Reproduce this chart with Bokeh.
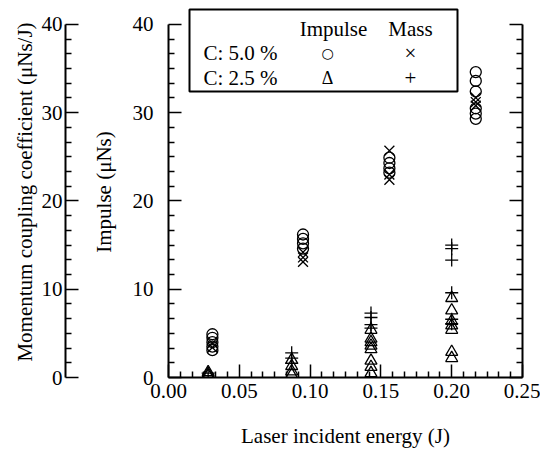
from bokeh.plotting import figure
from bokeh.models import (LinearAxis, FixedTicker, Range1d, Label, BoxAnnotation,
                          PrintfTickFormatter)
from bokeh.embed import file_html
from bokeh.resources import INLINE

# ---------------- data ----------------
x_ticks = [0.0, 0.05, 0.10, 0.15, 0.20, 0.25]
y_ticks = [0, 10, 20, 30, 40]

# C: 5.0 %  - Impulse (open circles)
imp5_x = [0.031, 0.031, 0.031, 0.031, 0.031,
          0.095, 0.095, 0.095, 0.095,
          0.156, 0.156, 0.156, 0.156,
          0.217, 0.217, 0.217, 0.217, 0.217, 0.217]
imp5_y = [4.9, 4.5, 4.0, 3.5, 3.1,
          16.2, 15.7, 15.2, 14.6,
          24.9, 24.3, 23.7, 23.2,
          34.6, 33.6, 32.4, 30.5, 29.9, 29.3]

# C: 5.0 %  - Mass (x)
mass5_x = [0.031, 0.031,
           0.095, 0.095, 0.095,
           0.156, 0.156, 0.156,
           0.217, 0.217, 0.217]
mass5_y = [3.4, 3.9,
           14.2, 13.6, 13.1,
           25.7, 23.0, 22.4,
           31.7, 31.2, 30.8]

# C: 2.5 %  - Impulse (open triangles)
imp25_x = [0.028, 0.028, 0.028,
           0.087, 0.087, 0.087, 0.087,
           0.143, 0.143, 0.143, 0.143, 0.143, 0.143, 0.143, 0.143,
           0.200, 0.200, 0.200, 0.200, 0.200, 0.200, 0.200]
imp25_y = [0.2, 0.4, 0.6,
           0.3, 0.7, 1.3, 2.0,
           5.4, 4.4, 4.0, 3.6, 3.2, 1.9, 1.2, 0.5,
           9.0, 7.6, 6.4, 5.9, 5.4, 2.9, 2.2]

# C: 2.5 %  - Mass (+)
mass25_x = [0.028,
            0.087, 0.087, 0.087,
            0.143, 0.143, 0.143, 0.143,
            0.200, 0.200, 0.200, 0.200, 0.200, 0.200]
mass25_y = [0.5,
            2.8, 2.2, 1.6,
            7.3, 6.8, 6.0, 5.6,
            15.0, 14.6, 13.3, 9.6, 6.6, 6.1]

FONT = "Liberation Serif"
FS = "21px"

# the frame reaches a little above 40 so that the legend box can stick out
# above the end of the axes, as in the original
p = figure(width=540, height=450, output_backend="svg", toolbar_location=None,
           x_range=Range1d(0, 0.25), y_range=Range1d(0, 42.03),
           x_axis_location=None, y_axis_location=None,
           min_border_left=168, min_border_right=18,
           min_border_top=6, min_border_bottom=72)
p.outline_line_color = None
p.background_fill_color = "white"
p.border_fill_color = "white"
for g in p.grid:
    g.visible = False


def minor_of(ticks, n):
    out = []
    for a, b in zip(ticks[:-1], ticks[1:]):
        step = (b - a) / n
        out += [a + step * k for k in range(1, n)]
    return out


def xticker():
    return FixedTicker(ticks=x_ticks, minor_ticks=minor_of(x_ticks, 6))


def yticker():
    return FixedTicker(ticks=y_ticks, minor_ticks=minor_of(y_ticks, 6))


def style(ax, show_labels=True):
    ax.axis_line_width = 2
    ax.axis_line_color = "black"
    ax.major_tick_in = 13
    ax.major_tick_out = 0
    ax.minor_tick_in = 6
    ax.minor_tick_out = 0
    ax.major_tick_line_width = 1.5
    ax.minor_tick_line_width = 1.5
    ax.major_tick_line_color = "black"
    ax.minor_tick_line_color = "black"
    ax.major_label_text_font = FONT
    ax.major_label_text_color = "black"
    ax.axis_label_text_font = FONT
    ax.axis_label_text_font_style = "normal"
    ax.axis_label_text_font_size = FS
    ax.axis_label_text_color = "black"
    if show_labels:
        ax.major_label_text_font_size = FS
    else:
        ax.major_label_text_font_size = "1px"
        ax.major_label_text_color = None
        ax.major_label_standoff = 0


# bottom axis
xb = LinearAxis(ticker=xticker(), formatter=PrintfTickFormatter(format="%.2f"),
                axis_label="Laser incident energy (J)")
style(xb)
xb.major_label_standoff = 6
xb.axis_label_standoff = 23
p.add_layout(xb, "below")

# inner left axis: Impulse
yi = LinearAxis(ticker=yticker(), axis_label="Impulse (μNs)", bounds=(0, 40))
style(yi)
yi.major_label_standoff = 15
yi.axis_label_standoff = 14
p.add_layout(yi, "left")

# spacer between the two left axes
sp = LinearAxis(ticker=FixedTicker(ticks=[]), axis_label=" ")
sp.axis_line_color = None
sp.major_tick_line_color = None
sp.minor_tick_line_color = None
sp.major_label_text_font_size = "1px"
sp.axis_label_text_font_size = "18px"
sp.axis_label_standoff = 0
sp.major_label_standoff = 0
p.add_layout(sp, "left")

# outer left axis: momentum coupling coefficient
yo = LinearAxis(ticker=yticker(), axis_label="Momentum coupling coefficient (μNs/J)",
                bounds=(0, 40))
style(yo)
yo.major_label_standoff = 3
yo.axis_label_standoff = 2
p.add_layout(yo, "left")

# right border with ticks
yr = LinearAxis(ticker=yticker(), bounds=(0, 40))
style(yr, show_labels=False)
p.add_layout(yr, "right")

# data
kw = dict(line_color="black", line_width=1.3)
p.scatter(imp5_x, imp5_y, marker="circle", size=11, fill_color=None, **kw)
p.scatter(mass5_x, mass5_y, marker="x", size=14, **kw)
p.scatter(imp25_x, imp25_y, marker="triangle", size=12, fill_color=None, **kw)
p.scatter(mass25_x, mass25_y, marker="cross", size=13, **kw)

# legend box
p.add_layout(BoxAnnotation(left=21, right=289, top=368, bottom=286,
                           left_units="screen", right_units="screen",
                           top_units="screen", bottom_units="screen",
                           fill_color="white", fill_alpha=1.0,
                           line_color="black", line_width=2, line_alpha=1.0))


def lab(x, y, text, align="left", font=FONT, size=FS):
    p.add_layout(Label(x=x, y=y, text=text, x_units="screen", y_units="screen",
                       text_align=align, text_baseline="middle",
                       text_font=font, text_font_size=size, text_color="black"))


lab(165, 349, "Impulse", "center")
lab(242, 349, "Mass", "center")
lab(35, 325, "C: 5.0 %")
lab(35, 300, "C: 2.5 %")
lab(159, 325, "○", "center", "DejaVu Sans", "14px")
lab(242, 325, "×", "center")
lab(159, 300, "Δ", "center", FONT, "18px")
lab(242, 300, "+", "center")

open("out.html", "w").write(file_html(p, INLINE))
